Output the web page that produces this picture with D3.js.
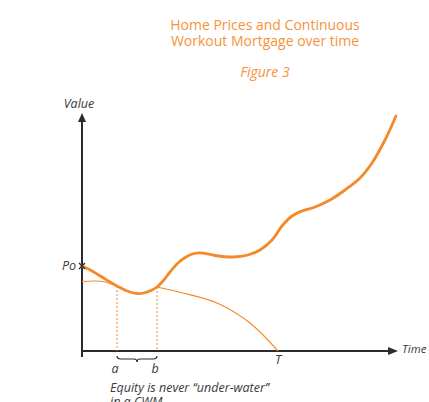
<!DOCTYPE html>
<html><head><meta charset="utf-8">
<script src="https://cdn.jsdelivr.net/npm/d3@7"></script>
<style>body{margin:0;background:#fff}svg{display:block}text{font-family:"Open Sans",sans-serif}</style>
</head><body><div id="c"></div>
<script>
// Data (time units, value units)
const titleLines = ["Home Prices and Continuous", "Workout Mortgage over time"];
const figureLabel = "Figure 3";
const homeT = [0,10,20,28,35,45,55,62,70,75,81,88,96,104,112,120,133,151,166,178,190,200,210,220,233,248,263,278,290,303,314];
const homeV = [85,80,74,69,65,60,57.5,58,61,64,70,79,88,94,97.5,98,95.5,94,96,101,111,125,135,140,144,151,161,173,188,211,235];
const mort1T = [0,13,23,35];
const mort1V = [69.5,70,69,65];
const mort2T = [75,101,135,168,196];
const mort2V = [64,58,48,28,0];
const markA = 35, markB = 75, markT = 196;
const po = 85;

const W = 429, H = 402;
const svg = d3.select("#c").append("svg").attr("width", W).attr("height", H);
const x = d3.scaleLinear().domain([0, 314]).range([82, 396]);
const y = d3.scaleLinear().domain([0, 236]).range([351, 115]);
const orange = "#f5892a", titleC = "#f7923a", dark = "#2b2b2b", textC = "#3a3a3a";
const fs = 12.5;

// title
svg.append("text").attr("x", 265).attr("y", 30).attr("text-anchor","middle").attr("font-size",14).attr("fill",titleC).text(titleLines[0]);
svg.append("text").attr("x", 265).attr("y", 46).attr("text-anchor","middle").attr("font-size",14).attr("fill",titleC).text(titleLines[1]);
svg.append("text").attr("x", 265).attr("y", 77).attr("text-anchor","middle").attr("font-size",14).attr("font-style","italic").attr("fill",titleC).text(figureLabel);

// axes
svg.append("line").attr("x1", x(0)).attr("x2", x(0)).attr("y1", y(0)+6).attr("y2", y(230)).attr("stroke", dark).attr("stroke-width", 2);
svg.append("path").attr("d", `M${x(0)-4},${y(229)} L${x(0)},${y(238)} L${x(0)+4},${y(229)} Z`).attr("fill", dark);
svg.append("line").attr("x1", x(0)).attr("x2", x(307)).attr("y1", y(0)).attr("y2", y(0)).attr("stroke", dark).attr("stroke-width", 2);
svg.append("path").attr("d", `M${x(306)},${y(0)-4} L${x(316)},${y(0)} L${x(306)},${y(0)+4} Z`).attr("fill", dark);
svg.append("text").attr("x", x(0)-3).attr("y", y(247)+4).attr("text-anchor","middle").attr("font-size",fs).attr("font-style","italic").attr("fill",textC).text("Value");
svg.append("text").attr("x", x(320)).attr("y", y(0)+2).attr("font-size",11.5).attr("font-style","italic").attr("fill",textC).text("Time");

const line = d3.line().x(d=>x(d[0])).y(d=>y(d[1])).curve(d3.curveCatmullRom);
const z = (a,b)=>a.map((t,i)=>[t,b[i]]);

// dotted markers
[markA, markB].forEach(m=>{
  const i = homeT.indexOf(m);
  svg.append("line").attr("x1", x(m)).attr("x2", x(m)).attr("y1", y(homeV[i])).attr("y2", y(0)).attr("stroke", orange).attr("stroke-width",1).attr("stroke-dasharray","2,2");
});

// mortgage thin lines
svg.append("path").attr("d", line(z(mort1T,mort1V))).attr("fill","none").attr("stroke",orange).attr("stroke-width",1.2);
svg.append("path").attr("d", line(z(mort2T,mort2V))).attr("fill","none").attr("stroke",orange).attr("stroke-width",1.2);
// home price thick
svg.append("path").attr("d", line(z(homeT,homeV))).attr("fill","none").attr("stroke",orange).attr("stroke-width",2.8).attr("stroke-linecap","round");

// Po marker
svg.append("text").attr("x", x(0)-6).attr("y", y(po)+4).attr("font-size",fs).attr("font-style","italic").attr("text-anchor","end").attr("fill",textC).text("Po");
svg.append("path").attr("d", `M${x(0)-3},${y(po)-3} L${x(0)+3},${y(po)+3} M${x(0)-3},${y(po)+3} L${x(0)+3},${y(po)-3}`).attr("stroke", dark).attr("stroke-width",1.3);

// brace
const by = y(0)+5;
const xa = x(markA), xb = x(markB), xm = (xa+xb)/2;
svg.append("path").attr("d", `M${xa},${by} Q${xa},${by+3} ${xa+4},${by+3} L${xm-3},${by+3} Q${xm},${by+3} ${xm},${by+6} Q${xm},${by+3} ${xm+3},${by+3} L${xb-4},${by+3} Q${xb},${by+3} ${xb},${by}`).attr("fill","none").attr("stroke",dark).attr("stroke-width",1.2);

svg.append("text").attr("x", xa-2).attr("y", y(0)+22).attr("font-size",fs).attr("font-style","italic").attr("text-anchor","middle").attr("fill",textC).text("a");
svg.append("text").attr("x", xb-2).attr("y", y(0)+22).attr("font-size",fs).attr("font-style","italic").attr("text-anchor","middle").attr("fill",textC).text("b");
svg.append("text").attr("x", x(markT)).attr("y", y(0)+13).attr("font-size",fs).attr("font-style","italic").attr("text-anchor","middle").attr("fill",textC).text("T");
svg.append("text").attr("x", 110).attr("y", 392).attr("font-size",fs).attr("font-style","italic").attr("fill",textC).text("Equity is never “under-water”");
svg.append("text").attr("x", 110).attr("y", 406).attr("font-size",fs).attr("font-style","italic").attr("fill",textC).text("in a CWM");
</script></body></html>
